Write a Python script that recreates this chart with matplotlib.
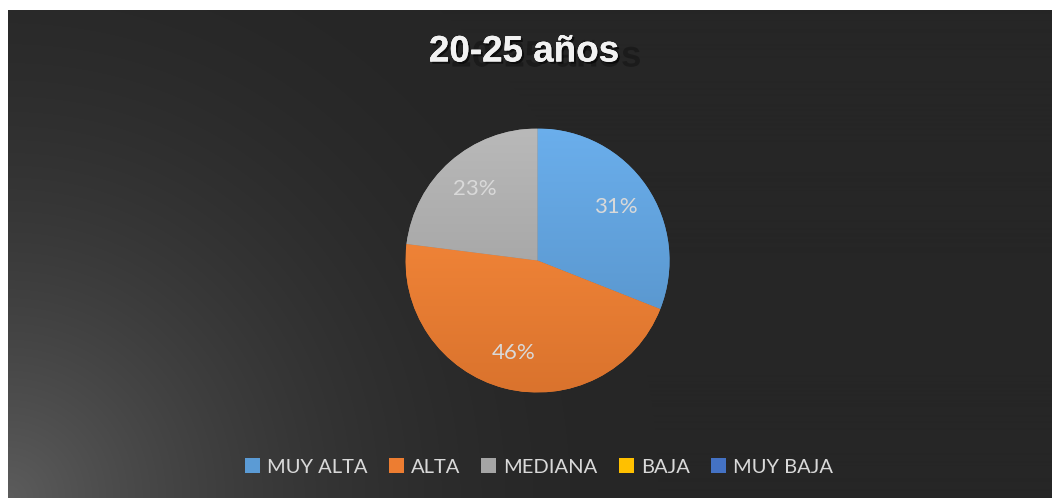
import numpy as np
import matplotlib
matplotlib.use("Agg")
import matplotlib.pyplot as plt
import matplotlib.patheffects as pe
from matplotlib.patches import Rectangle
from matplotlib.colors import to_rgb

# ---- data ----
title = "20-25 años"
categories = ["MUY ALTA", "ALTA", "MEDIANA", "BAJA", "MUY BAJA"]
values = [31, 46, 23, 0, 0]
colors = ["#5B9BD5", "#ED7D31", "#A5A5A5", "#FFC000", "#4472C4"]

W, H = 1052, 498
fig = plt.figure(figsize=(W / 100, H / 100), dpi=100, facecolor="white")

# ---- background panel with radial glow from bottom-left ----
x0, y0 = 8, 0
bw, bh = W - 8, H - 10
bg = fig.add_axes([x0 / W, y0 / H, bw / W, bh / H])
yy, xx = np.mgrid[0:bh, 0:bw]
d = np.hypot(xx, yy - (bh - 1))
f = np.clip(1 - d / 650.0, 0, 1) ** 2
base, peak = 38 / 255, 92 / 255
g = base + (peak - base) * f
img = np.dstack([g, g, g])
bg.imshow(img, extent=[0, bw, 0, bh], aspect="auto", origin="upper")
bg.set_axis_off()

# ---- title (with far soft shadow and close drop shadow) ----
tx, ty = 524 / W, (H - 52) / H
fig.text(tx, ty, title, ha="center", va="center", fontsize=26.5, fontweight="bold",
         family="Liberation Sans", color="#F2F2F2",
         path_effects=[pe.withSimplePatchShadow(offset=(16, -3.6), shadow_rgbFace="#0e0e0e", alpha=0.45),
                       pe.withSimplePatchShadow(offset=(1.5, -1.5), shadow_rgbFace="black", alpha=0.6),
                       pe.Normal()])

# ---- pie ----
cx, cy, r = 537.5, H - 260.5, 132
ax = fig.add_axes([(cx - r) / W, (cy - r) / H, 2 * r / W, 2 * r / H])
ax.set_axis_off()

def fmt(p):
    return f"{p:.0f}%" if p > 0.5 else ""

wedges, texts, autotexts = ax.pie(values, colors=colors, startangle=90, counterclock=False,
                                  autopct=fmt, pctdistance=0.72, radius=1,
                                  textprops=dict(color="#D9D9D9", fontsize=16, family="Lato"),
                                  wedgeprops=dict(linewidth=0))

# vertical gradient overlay on each wedge (lighter top, darker bottom)
for w, c in zip(wedges, colors):
    rgb = np.array(to_rgb(c))
    top = np.clip(rgb * 1.06 + 0.04, 0, 1)
    bot = rgb * 0.92
    t = np.linspace(0, 1, 256)[:, None]
    grad = top[None, :] * (1 - t) + bot[None, :] * t
    grad = np.repeat(grad[:, None, :], 2, axis=1)
    im = ax.imshow(grad, extent=[-1, 1, -1, 1], origin="upper", aspect="auto", zorder=w.get_zorder())
    im.set_clip_path(w)
for t in autotexts:
    t.set_zorder(5)

ax.set_xlim(-1, 1)
ax.set_ylim(-1, 1)
ax.set_aspect("equal")

# ---- legend ----
handles = [Rectangle((0, 0), 1, 1, facecolor=c, edgecolor="none") for c in colors]
leg = fig.legend(handles, categories, loc="center", bbox_to_anchor=(539 / W, (H - 467) / H),
                 ncol=5, frameon=False, handlelength=0.75, handleheight=0.75,
                 handletextpad=0.35, columnspacing=1.05, prop=dict(family="Lato", size=14.5))
for t in leg.get_texts():
    t.set_color("#D9D9D9")

fig.savefig("out.png", dpi=100, facecolor="white")
